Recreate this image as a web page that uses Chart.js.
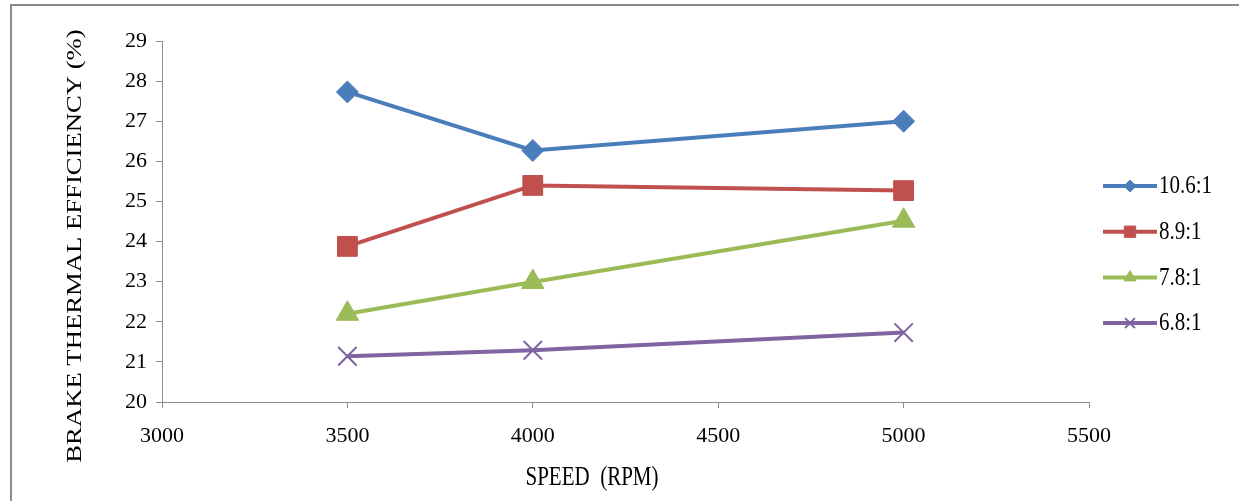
<!DOCTYPE html>
<html>
<head>
<meta charset="utf-8">
<script src="https://cdn.jsdelivr.net/npm/chart.js@4.4.1/dist/chart.umd.min.js"></script>
<style>
  html, body { margin: 0; padding: 0; background: #fff; }
  #wrap { position: relative; width: 1239px; height: 501px; overflow: hidden; }
  #frame { position: absolute; left: 10px; top: 4px; width: 1400px; height: 700px;
           border-top: 2px solid #8c8c8c; border-left: 2px solid #8c8c8c; }
  canvas { position: absolute; left: 0; top: 0; }
</style>
</head>
<body>
<div id="wrap">
  <div id="frame"></div>
  <canvas id="c" width="1239" height="501"></canvas>
</div>
<script>
// Engine speed (RPM) and brake thermal efficiency (%) for each compression ratio
const speeds   = [3500, 4000, 5000];
const cr106    = [27.73, 26.27, 27.00];
const cr89     = [23.88, 25.40, 25.27];
const cr78     = [22.20, 22.99, 24.52];
const cr68     = [21.14, 21.29, 21.73];
const seriesNames = ['10.6:1', '8.9:1', '7.8:1', '6.8:1'];
const xTicks = [3000, 3500, 4000, 4500, 5000, 5500];
const yTicks = [20, 21, 22, 23, 24, 25, 26, 27, 28, 29];
const xTitle = 'SPEED  (RPM)';
const yTitle = 'BRAKE THERMAL EFFICIENCY (%)';

const FONT = "'Liberation Serif', 'Times New Roman', serif";
const AXIS = '#8c8c8c';
const TALL = 1.27; // titles are set in a tall, narrow face

const toPoints = (vals) => vals.map((v, i) => ({ x: speeds[i], y: v }));

const styles = [
  { color: '#4a7ebb', point: 'rectRot',  r: 11, lr: 6, bw: 1 },
  { color: '#c0504d', point: 'rect',     r: 14, lr: 8, bw: 1 },
  { color: '#9bbb59', point: 'triangle', r: 13, lr: 7, bw: 1 },
  { color: '#8064a2', point: 'crossRot', r: 13, lr: 7, bw: 2 }
];
const seriesValues = [cr106, cr89, cr78, cr68];

const datasets = seriesValues.map((vals, i) => ({
  label: seriesNames[i],
  data: toPoints(vals),
  borderColor: styles[i].color,
  backgroundColor: styles[i].color,
  borderWidth: 4,
  tension: 0,
  pointStyle: styles[i].point,
  pointRadius: styles[i].r,
  pointBorderWidth: styles[i].bw,
  pointBackgroundColor: styles[i].color,
  pointBorderColor: styles[i].color
}));

// Axis titles and the line+marker legend on the right
const decorations = {
  id: 'decorations',
  afterDraw(chart) {
    const ctx = chart.ctx;
    ctx.save();
    ctx.fillStyle = '#000';
    ctx.font = '21px ' + FONT;
    ctx.textAlign = 'center';
    ctx.textBaseline = 'middle';

    ctx.save();
    ctx.translate(592, 478);
    ctx.scale(1, TALL);
    ctx.fillText(xTitle, 0, 0);
    ctx.restore();

    ctx.save();
    ctx.translate(75, 246);
    ctx.rotate(-Math.PI / 2);
    ctx.scale(TALL, 1);
    ctx.fillText(yTitle, 0, 0);
    ctx.restore();

    chart.data.datasets.forEach((ds, i) => {
      const y = 186 + i * 45.7;
      ctx.strokeStyle = ds.borderColor;
      ctx.lineWidth = 4;
      ctx.beginPath();
      ctx.moveTo(1103, y);
      ctx.lineTo(1157, y);
      ctx.stroke();
      ctx.fillStyle = ds.borderColor;
      ctx.strokeStyle = ds.borderColor;
      ctx.lineWidth = styles[i].bw;
      Chart.helpers.drawPoint(ctx, {
        pointStyle: styles[i].point, radius: styles[i].lr, rotation: 0, borderWidth: styles[i].bw
      }, 1130, y);
      ctx.fillStyle = '#000';
      ctx.textAlign = 'left';
      ctx.textBaseline = 'middle';
      ctx.font = '21px ' + FONT;
      ctx.save();
      ctx.translate(1159, y + 1);
      ctx.scale(1, 1.15);
      ctx.fillText(ds.label, 0, 0);
      ctx.restore();
    });
    ctx.restore();
  }
};

new Chart(document.getElementById('c'), {
  type: 'line',
  data: { datasets },
  options: {
    responsive: false,
    animation: false,
    devicePixelRatio: 1,
    layout: { padding: { left: 0, top: 41, right: 150, bottom: 0 } },
    plugins: { legend: { display: false }, tooltip: { enabled: false } },
    scales: {
      x: {
        type: 'linear',
        min: xTicks[0],
        max: xTicks[xTicks.length - 1],
        afterBuildTicks: (s) => { s.ticks = xTicks.map(v => ({ value: v })); },
        afterFit: (s) => { s.height = 99; },
        ticks: {
          color: '#000', font: { family: FONT, size: 22 }, padding: 15,
          maxRotation: 0, autoSkip: false, callback: (v) => String(v)
        },
        grid: { drawOnChartArea: false, drawTicks: true, tickLength: 6, color: AXIS },
        border: { color: AXIS, width: 1 }
      },
      y: {
        type: 'linear',
        min: yTicks[0],
        max: yTicks[yTicks.length - 1],
        afterBuildTicks: (s) => { s.ticks = yTicks.map(v => ({ value: v })); },
        afterFit: (s) => { s.width = 162; },
        ticks: {
          color: '#000', font: { family: FONT, size: 22 }, padding: 9,
          autoSkip: false, callback: (v) => String(v)
        },
        grid: { drawOnChartArea: false, drawTicks: true, tickLength: 6, color: AXIS },
        border: { color: AXIS, width: 1 }
      }
    }
  },
  plugins: [decorations]
});
</script>
</body>
</html>
